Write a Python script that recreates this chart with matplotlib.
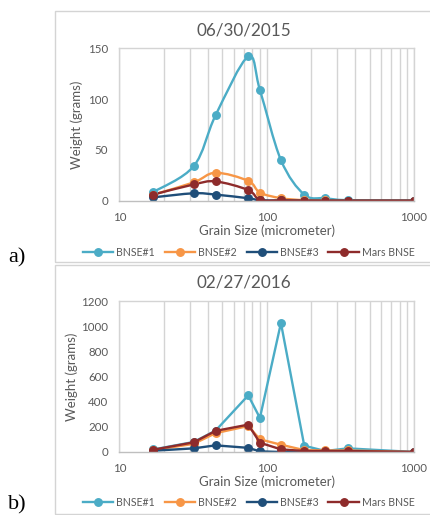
import matplotlib
matplotlib.use("Agg")
import matplotlib.pyplot as plt
from matplotlib.path import Path
from matplotlib.patches import PathPatch, Rectangle
from matplotlib.lines import Line2D
import numpy as np


# sieve sizes (micrometer)
grain_size = [17, 32, 45, 75, 90, 125, 180, 250, 355, 1000]

series_names = ["BNSE#1", "BNSE#2", "BNSE#3", "Mars BNSE"]
series_colors = ["#4bacc6", "#f79646", "#1f4e79", "#8e2b2b"]

# 06/30/2015
weight_2015_bnse1 = [8.5, 34, 84, 142, 109, 40, 6, 2.5, 0.5, 0]
weight_2015_bnse2 = [6, 18, 27.5, 19.5, 8, 2.5, 0.5, 0.2, 0.1, 0]
weight_2015_bnse3 = [3.3, 7.3, 6, 2.4, 0.5, 0.2, 0, 0, 0, 0]
weight_2015_mars = [6, 16, 19, 10.5, 0.8, 0.3, 0.1, 0, 0, 0]

# 02/27/2016
weight_2016_bnse1 = [20, 80, 170, 451, 271, 1027, 50, 8, 29, 0]
weight_2016_bnse2 = [15, 65, 150, 207, 101, 58, 15, 12, 12, 0]
weight_2016_bnse3 = [10, 29, 53, 33, 5, 0, 0, 0, 0, 0]
weight_2016_mars = [18, 77, 168, 218, 74, 21, 8, 8, 8, 0]

yticks_2015 = [0, 50, 100, 150]
yticks_2016 = [0, 200, 400, 600, 800, 1000, 1200]

W, H = 431, 515
text_color = "#595959"
grid_color = "#d4d4d4"
font = "Lato"
lw = 1.7
ms = 5.4


def fx(px):
	return px / W


def fy(px):
	return 1 - px / H


def smooth_path(xs, ys):
	# excel style smoothed line: bezier through points, built in (log x, y)
	lx = np.log10(xs)
	ys = np.asarray(ys, dtype=float)
	pts = np.column_stack([lx, ys])
	n = len(pts)
	verts = [pts[0]]
	codes = [Path.MOVETO]
	for i in range(n - 1):
		p0 = pts[max(i - 1, 0)]
		p1 = pts[i]
		p2 = pts[i + 1]
		p3 = pts[min(i + 2, n - 1)]
		c1 = p1 + (p2 - p0) / 6.0
		c2 = p2 - (p3 - p1) / 6.0
		verts += [c1, c2, p2]
		codes += [Path.CURVE4] * 3
	verts = np.array(verts)
	verts[:, 0] = 10 ** verts[:, 0]
	return Path(verts, codes)


def draw_panel(fig, top, bottom, title, title_y, weights, yticks, ymax, smooth,
		ylabel_x, legend_y, box_top, box_bottom):
	left, right = 119.3, 414
	ax = fig.add_axes([fx(left), fy(bottom), fx(right - left), (bottom - top) / H])

	fig.patches.append(Rectangle(
		(fx(55.5), fy(box_bottom)), fx(W + 10 - 55.5), (box_bottom - box_top) / H,
		transform=fig.transFigure, fill=False, edgecolor=grid_color, linewidth=1,
	))

	for name, color, vals in zip(series_names, series_colors, weights):
		if smooth:
			ax.add_patch(PathPatch(
				smooth_path(grain_size, vals),
				facecolor="none", edgecolor=color, linewidth=lw,
				capstyle="round", joinstyle="round",
			))
			ax.plot(grain_size, vals, linestyle="none", marker="o",
				markersize=ms, color=color, label=name)
		else:
			ax.plot(grain_size, vals, marker="o", markersize=ms,
				linewidth=lw, color=color, label=name)

	ax.set_xscale("log")
	ax.set_xlim(10, 1000)
	ax.set_ylim(0, ymax)
	ax.set_yticks(yticks)
	ax.set_xticks([10, 100, 1000])
	ax.set_xticklabels(["10", "100", "1000"])
	ax.xaxis.set_minor_formatter(plt.NullFormatter())
	ax.grid(True, axis="x", which="both", color=grid_color, linewidth=1)
	ax.set_axisbelow(True)
	for sp in ax.spines.values():
		sp.set_color(grid_color)
		sp.set_linewidth(1)
	ax.spines["bottom"].set_color("#bfbfbf")
	ax.tick_params(axis="both", which="both", length=0, labelsize=8.3,
		labelcolor=text_color)
	ax.tick_params(axis="x", pad=8)
	ax.tick_params(axis="y", pad=8)
	for lab in ax.get_xticklabels() + ax.get_yticklabels():
		lab.set_family(font)

	ax.set_xlabel("Grain Size (micrometer)", fontsize=9.5, color=text_color,
		family=font)
	ax.xaxis.set_label_coords(0.5, -(231 - 200.7) / 152.4)
	ax.xaxis.label.set_va("center")
	ax.set_ylabel("Weight (grams)", fontsize=9.5, color=text_color, family=font)
	ax.yaxis.set_label_coords(-(left - ylabel_x) / (right - left), 0.5)
	ax.yaxis.label.set_va("center")

	fig.text(fx(244), fy(title_y), title, ha="center", va="center",
		fontsize=12.3, color=text_color, family=font)

	handles = [
		Line2D([], [], color=c, marker="o", markersize=ms, linewidth=lw)
		for c in series_colors
	]
	fig.legend(handles, series_names, loc="center",
		bbox_to_anchor=(fx(248.5), fy(legend_y)), ncol=4, frameon=False,
		prop={"family": font, "size": 7.6}, labelcolor=text_color,
		handlelength=2.9, handletextpad=0.25, columnspacing=0.95,
		borderaxespad=0, borderpad=0)
	return ax


fig = plt.figure(figsize=(W / 100, H / 100), dpi=100)

draw_panel(fig, 48.3, 200.7, "06/30/2015", 30,
	[weight_2015_bnse1, weight_2015_bnse2, weight_2015_bnse3, weight_2015_mars],
	yticks_2015, 150, True, 76.7, 252, 11.5, 262)

draw_panel(fig, 301.3, 452, "02/27/2016", 283,
	[weight_2016_bnse1, weight_2016_bnse2, weight_2016_bnse3, weight_2016_mars],
	yticks_2016, 1200, False, 71.7, 502, 264.5, 514)

fig.text(fx(17), fy(258), "a)", ha="center", va="center", fontsize=16,
	family="Liberation Serif", color="black")
fig.text(fx(17), fy(505), "b)", ha="center", va="center", fontsize=16,
	family="Liberation Serif", color="black")

fig.savefig("out.png", dpi=100)
